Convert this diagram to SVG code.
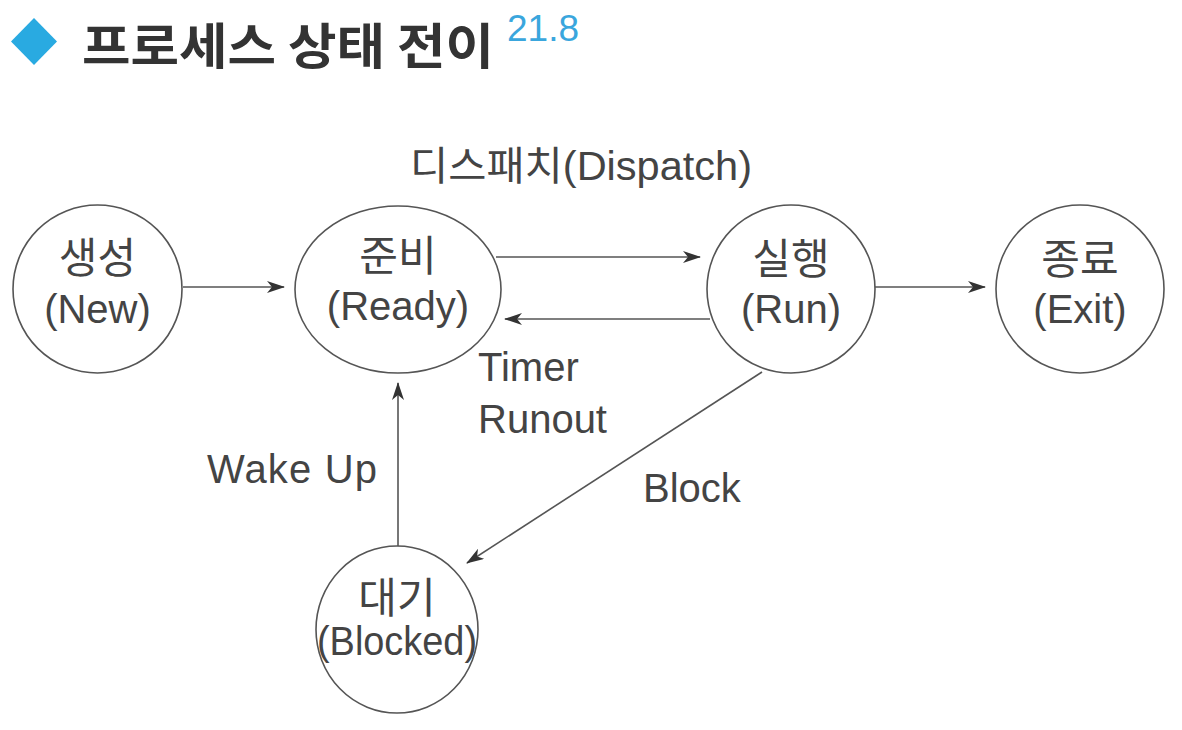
<svg xmlns="http://www.w3.org/2000/svg" width="1182" height="730" viewBox="0 0 1182 730">
<style>
.node ellipse{fill:#fff;stroke:#555;stroke-width:1.6}
.t{font-family:"Liberation Sans","Noto Sans CJK KR",sans-serif;fill:#444;font-size:40px;text-anchor:middle}
.k{font-family:"Noto Sans CJK KR","Liberation Sans",sans-serif;fill:#444;font-size:42px;text-anchor:middle}
.lbl{font-family:"Liberation Sans","Noto Sans CJK KR",sans-serif;fill:#444;font-size:40px}
.edge{stroke:#555;stroke-width:1.6;fill:none;marker-end:url(#ah)}
</style>
<defs>
<marker id="ah" viewBox="0 0 18 12" markerWidth="18" markerHeight="12" refX="17" refY="6" orient="auto" markerUnits="userSpaceOnUse">
<path d="M0,0 L18,6 L0,12 L5,6 z" fill="#333"/>
</marker>
</defs>
<rect width="1182" height="730" fill="#fff"/>
<g id="title">
<polygon points="34,18 57,41.5 34,65 11,41.5" fill="#29aae1"/>
<text x="82" y="64" font-family="'Noto Sans CJK KR',sans-serif" font-weight="bold" font-size="49" fill="#333" textLength="412" lengthAdjust="spacingAndGlyphs">프로세스 상태 전이</text>
<text x="507" y="41" font-family="'Liberation Sans',sans-serif" font-size="37" fill="#3aa6dd">21.8</text>
</g>
<g id="connectors">
<line class="edge" x1="183" y1="287" x2="284" y2="287"/>
<line class="edge" x1="496" y1="257" x2="700" y2="257"/>
<line class="edge" x1="710" y1="319" x2="505" y2="319"/>
<line class="edge" x1="875" y1="287" x2="985" y2="287"/>
<line class="edge" x1="762" y1="372" x2="467" y2="563"/>
<line class="edge" x1="398" y1="546" x2="398" y2="383"/>
<text class="lbl" x="410" y="180" font-size="36" textLength="342" lengthAdjust="spacingAndGlyphs">디스패치(Dispatch)</text>
<text class="lbl" x="478" y="381">Timer</text>
<text class="lbl" x="478" y="433">Runout</text>
<text class="lbl" x="643" y="502">Block</text>
<text class="lbl" x="207" y="483" textLength="170" lengthAdjust="spacing">Wake Up</text>
</g>
<g id="node-new" class="node">
<ellipse cx="97.5" cy="289" rx="84.5" ry="84"/>
<text class="k" x="97.5" y="273">생성</text>
<text class="t" x="97.5" y="323">(New)</text>
</g>
<g id="node-ready" class="node">
<ellipse cx="398" cy="289.5" rx="103" ry="83.5"/>
<text class="k" x="398" y="271">준비</text>
<text class="t" x="398" y="320">(Ready)</text>
</g>
<g id="node-run" class="node">
<ellipse cx="791" cy="289" rx="84" ry="84"/>
<text class="k" x="791" y="274">실행</text>
<text class="t" x="791" y="323">(Run)</text>
</g>
<g id="node-exit" class="node">
<ellipse cx="1080" cy="289" rx="84" ry="84"/>
<text class="k" x="1080" y="274">종료</text>
<text class="t" x="1080" y="323">(Exit)</text>
</g>
<g id="node-blocked" class="node">
<ellipse cx="397" cy="629.5" rx="81" ry="83.5"/>
<text class="k" x="397" y="613">대기</text>
<text class="t" x="397" y="655" textLength="160" lengthAdjust="spacingAndGlyphs">(Blocked)</text>
</g>
</svg>
